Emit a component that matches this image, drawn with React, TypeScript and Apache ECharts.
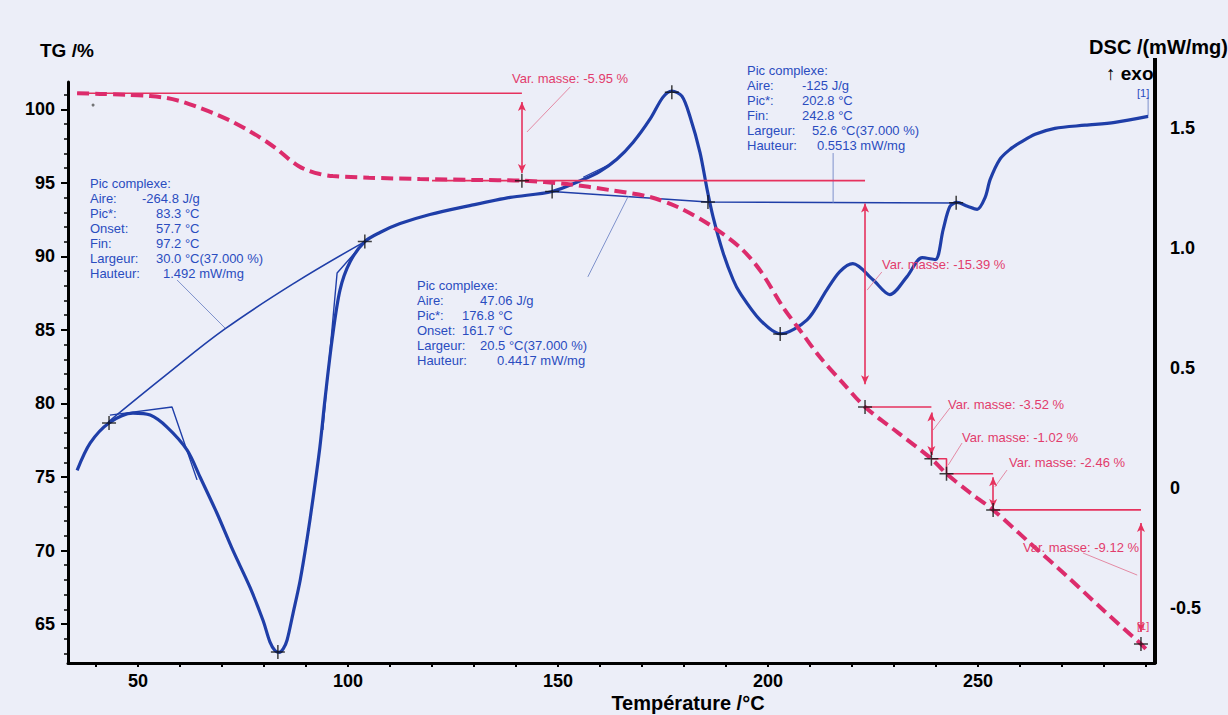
import React, { useEffect, useRef } from "react";
import * as echarts from "echarts";

// ---------- data (Température °C, value) ----------
const dscCurve: [number, number][] = [
  [35.5, 0.075], [38.6, 0.188], [43.1, 0.272], [48.8, 0.313], [52.9, 0.305], [56.9, 0.255],
  [61.7, 0.159], [64.8, 0.046], [68.8, -0.104], [72.6, -0.259], [76.7, -0.414], [79.8, -0.552],
  [81.4, -0.64], [82.6, -0.676], [83.6, -0.684], [84.6, -0.668], [85.5, -0.632], [86.9, -0.522], [88.6, -0.384],
  [90.2, -0.217], [91.7, -0.038], [93.3, 0.171], [94.5, 0.368], [96.2, 0.618], [98.1, 0.827],
  [100.5, 0.944], [104.0, 1.028], [107.6, 1.066], [112.4, 1.103], [119.5, 1.141], [129.0, 1.178],
  [138.6, 1.212], [148.6, 1.237], [156.0, 1.287], [160.0, 1.321], [164.0, 1.371], [167.9, 1.442],
  [171.9, 1.538], [175.0, 1.630], [177.1, 1.655], [179.5, 1.634], [181.4, 1.55], [183.8, 1.4],
  [185.5, 1.245], [186.9, 1.132], [189.3, 0.982], [191.7, 0.869], [193.3, 0.815], [198.1, 0.702],
  [202.9, 0.644], [209.3, 0.702], [214.0, 0.827], [217.1, 0.903], [220.2, 0.936], [225.0, 0.869],
  [229.0, 0.807], [233.1, 0.882], [236.7, 0.961], [239.8, 0.953], [241.7, 1.078], [243.3, 1.174],
  [245.0, 1.191], [247.5, 1.175], [249.8, 1.162], [251.7, 1.212], [252.9, 1.287], [255.2, 1.371],
  [257.6, 1.412], [260.0, 1.44], [263.6, 1.475], [268.3, 1.5], [275.5, 1.513], [282.6, 1.525],
  [290.5, 1.55],
];

const tgCurve: [number, number][] = [
  [35.5, 101.1], [41.0, 101.05], [47.0, 101.0], [52.9, 100.9], [56.9, 100.77], [60.8, 100.5],
  [64.8, 100.09], [68.7, 99.65], [72.6, 99.14], [76.7, 98.5], [80.7, 97.78], [83.5, 97.2],
  [86.2, 96.55], [88.2, 96.15], [90.2, 95.87], [93.3, 95.6], [96.4, 95.46], [105.0, 95.35],
  [117.1, 95.26], [130.0, 95.2], [141.4, 95.15], [152.1, 94.92], [162.4, 94.51], [171.9, 94.04],
  [179.0, 93.29], [186.2, 92.13], [193.3, 90.62], [198.1, 89.06], [203.6, 86.54], [207.6, 84.98],
  [212.4, 83.14], [217.8, 81.4], [223.1, 79.76], [231.0, 78.0], [238.9, 76.24], [242.5, 75.22],
  [248.0, 73.95], [253.6, 72.76], [262.0, 70.6], [271.0, 68.3], [280.0, 65.9], [288.8, 63.64],
  [290.3, 63.2],
];

// TG step points (mass change marks)
const tgMarks: [number, number][] = [
  [141.4, 95.15], [223.1, 79.76], [238.9, 76.24], [242.5, 75.22], [253.6, 72.76], [288.8, 63.64],
];
// DSC characteristic points
const dscMarks: [number, number][] = [
  [43.1, 0.272], [83.3, -0.682], [104.0, 1.028], [148.6, 1.237], [177.1, 1.65],
  [185.7, 1.193], [202.9, 0.643], [244.8, 1.19],
];
const tgDot: [number, number][] = [[39.3, 100.29]];

// DSC evaluation lines (baselines / tangents)
const dscBase1: [number, number][] = [[42.9, 0.276], [56.4, 0.468], [70.7, 0.664], [87.4, 0.857], [104.0, 1.028]];
const dscTangent1: [number, number][] = [[43.3, 0.305], [58.1, 0.339], [64.05, 0.035]];
const dscTangent2: [number, number][] = [[104.0, 1.028], [97.4, 0.897], [94.0, 0.243]];
const dscBase2: [number, number][] = [[148.6, 1.237], [185.7, 1.193], [244.8, 1.189]];
const dscTangent3: [number, number][] = [[156.0, 1.296], [162.9, 1.354]];
// DSC leader lines
const dscLeaders: [number, number][][] = [
  [[59.3, 0.868], [70.7, 0.668]],
  [[157.1, 0.881], [166.7, 1.216]],
  [[215.5, 1.397], [215.5, 1.19]],
  [[290.5, 1.63], [290.5, 1.55]],
];

// TG step lines
const tgLevels: [number, number][][] = [
  [[35.5, 101.1], [141.4, 101.1]],
  [[120.0, 95.15], [223.1, 95.15]],
  [[223.1, 79.76], [238.9, 79.76]],
  [[238.9, 76.24], [242.5, 76.24], [242.5, 75.22]],
  [[242.5, 75.22], [253.6, 75.22]],
  [[253.6, 72.76], [288.8, 72.76]],
];
// double arrows: [T, from, to]
const tgArrows: [number, number, number][] = [
  [141.4, 100.5, 95.67],
  [223.1, 93.6, 81.3],
  [238.9, 79.39, 76.49],
  [253.6, 74.99, 72.89],
  [288.8, 71.87, 64.46],
];
const tgLeaders: [number, number][][] = [
  [[142.6, 98.46], [152.9, 101.52]],
  [[223.6, 87.71], [227.1, 88.94]],
  [[239.3, 78.19], [243.3, 79.69]],
  [[242.9, 75.81], [246.2, 77.31]],
  [[254.0, 74.32], [256.9, 75.47]],
  [[287.9, 68.33], [275.0, 69.83]],
];

const xLabels = [50, 100, 150, 200, 250];
const xTicks = [40, 50, 60, 70, 80, 90, 100, 110, 120, 130, 140, 150, 160, 170, 180, 190, 200, 210, 220, 230, 240, 250, 260, 270, 280, 290];
const tgLabels = [65, 70, 75, 80, 85, 90, 95, 100];
const tgMinorTicks = [63, 64, 65, 66, 67, 68, 69, 70, 71, 72, 73, 74, 75, 76, 77, 78, 79, 80, 81, 82, 83, 84, 85, 86, 87, 88, 89, 90, 91, 92, 93, 94, 95, 96, 97, 98, 99, 100, 101];
const dscLabels = [-0.5, 0, 0.5, 1, 1.5];

const peak1Keys = ["Pic complexe:", "Aire:", "Pic*:", "Onset:", "Fin:", "Largeur:", "Hauteur:"];
const peak1Vals = ["", "-264.8 J/g", "83.3 °C", "57.7 °C", "97.2 °C", "30.0 °C(37.000 %)", "1.492 mW/mg"];
const peak2Keys = ["Pic complexe:", "Aire:", "Pic*:", "Onset:", "Largeur:", "Hauteur:"];
const peak2Vals = ["", "47.06 J/g", "176.8 °C", "161.7 °C", "20.5 °C(37.000 %)", "0.4417 mW/mg"];
const peak3Keys = ["Pic complexe:", "Aire:", "Pic*:", "Fin:", "Largeur:", "Hauteur:"];
const peak3Vals = ["", "-125 J/g", "202.8 °C", "242.8 °C", "52.6 °C(37.000 %)", "0.5513 mW/mg"];
const massLabels = [
  "Var. masse: -5.95 %", "Var. masse: -15.39 %", "Var. masse: -3.52 %",
  "Var. masse: -1.02 %", "Var. masse: -2.46 %", "Var. masse: -9.12 %",
];

// ---------- layout / style ----------
const FONT = '"Liberation Sans", Arial, Helvetica, sans-serif';
const BLUE = "#1f3ea8";
const BLUE_TEXT = "#2a4cbf";
const RED = "#e6325e";
const RED_TEXT = "#e23c6c";
const TG_COLOR = "#dc2c6c";

const block1Pos = { x: 90, y: 183, off: [0, 52, 66, 66, 66, 66, 73] };
const block2Pos = { x: 417, y: 285, off: [0, 63, 45, 45, 63, 80] };
const block3Pos = { x: 747, y: 70, off: [0, 55, 55, 55, 65, 70] };
const massPos: [number, number][] = [[512, 78], [882, 264], [948, 404], [962, 437], [1009, 462], [1023, 547]];

function textEl(text: string, x: number, y: number, fill: string, size: number, weight = "normal", align = "left", z = 20) {
  return {
    type: "text",
    x,
    y,
    z,
    silent: true,
    style: {
      text,
      fill,
      font: `${weight} ${size}px ${FONT}`,
      textAlign: align,
      textVerticalAlign: "middle",
    },
  };
}

function blockEls(keys: string[], vals: string[], pos: { x: number; y: number; off: number[] }) {
  const els: any[] = [];
  keys.forEach((k, i) => {
    const y = pos.y + i * 15;
    els.push(textEl(k, pos.x, y, BLUE_TEXT, 13));
    if (vals[i]) els.push(textEl(vals[i], pos.x + pos.off[i], y, BLUE_TEXT, 13));
  });
  return els;
}

function lineSeries(data: [number, number][], yAxisIndex: number, color: string, width: number, z: number, smooth: any = false, extra: any = {}) {
  return {
    type: "line",
    data,
    yAxisIndex,
    showSymbol: false,
    symbol: "none",
    smooth,
    silent: true,
    z,
    lineStyle: { color, width },
    ...extra,
  };
}

const crossSymbol = "path://M10,0L10,20M0,10L20,10";

export default function App() {
  const ref = useRef<HTMLDivElement>(null);
  useEffect(() => {
    const chart = echarts.init(ref.current!, null, { renderer: "svg" });
    const grid = { left: 68, right: 73, top: 82, bottom: 52 };
    const series: any[] = [];

    series.push(lineSeries(dscCurve, 1, BLUE, 3.2, 3, 0.3));
    series.push(lineSeries(dscBase1, 1, BLUE, 1.6, 2, 0.4));
    series.push(lineSeries(dscTangent1, 1, BLUE, 1.4, 2));
    series.push(lineSeries(dscTangent2, 1, BLUE, 1.4, 2));
    series.push(lineSeries(dscBase2, 1, BLUE, 1.6, 2));
    series.push(lineSeries(dscTangent3, 1, BLUE, 1.2, 2));
    dscLeaders.forEach((l) => series.push(lineSeries(l, 1, "#7f92cc", 1, 2)));

    tgLevels.forEach((l, i) =>
      series.push(
        lineSeries(l, 0, RED, 1.6, 4, false,
          i === 0
            ? {
                markLine: {
                  silent: true,
                  symbol: ["arrow", "arrow"],
                  symbolSize: [6, 9],
                  label: { show: false },
                  lineStyle: { color: RED, width: 1.6, type: "solid" },
                  data: tgArrows.map((a) => [{ coord: [a[0], a[1]] }, { coord: [a[0], a[2]] }]),
                },
              }
            : {})
      )
    );
    tgLeaders.forEach((l) => series.push(lineSeries(l, 0, "#e48aa4", 1, 4)));

    series.push(
      lineSeries(tgCurve, 0, TG_COLOR, 4, 6, 0.3, {
        lineStyle: { color: TG_COLOR, width: 4, type: [12, 6], cap: "butt" },
      })
    );

    const crossStyle = { color: "rgba(0,0,0,0)", borderColor: "#111", borderWidth: 1.5 };
    series.push({ type: "scatter", data: tgMarks, yAxisIndex: 0, symbol: crossSymbol, symbolSize: 14, itemStyle: crossStyle, z: 10, silent: true });
    series.push({ type: "scatter", data: dscMarks, yAxisIndex: 1, symbol: crossSymbol, symbolSize: 14, itemStyle: crossStyle, z: 10, silent: true });
    series.push({ type: "scatter", data: tgDot, yAxisIndex: 0, symbol: "circle", symbolSize: 3, itemStyle: { color: "#555" }, z: 10, silent: true });

    const axisLabelStyle = { color: "#000", fontSize: 18, fontWeight: "bold", fontFamily: FONT };

    const graphic: any[] = [
      ...blockEls(peak1Keys, peak1Vals, block1Pos),
      ...blockEls(peak2Keys, peak2Vals, block2Pos),
      ...blockEls(peak3Keys, peak3Vals, block3Pos),
      ...massLabels.map((t, i) => textEl(t, massPos[i][0], massPos[i][1], RED_TEXT, 13)),
      textEl("[1]", 1137, 626, RED_TEXT, 11),
      textEl("[1]", 1137, 93, BLUE_TEXT, 11),
      textEl("TG /%", 40, 50, "#000", 19, "bold"),
      textEl("DSC /(mW/mg)", 1228, 47, "#000", 20, "bold", "right", 15),
      textEl("↑ exo", 1106, 73, "#000", 19, "bold", "left", 15),
      textEl("Température /°C", 688, 703, "#000", 20, "bold", "center"),
      {
        type: "line",
        z: 30,
        silent: true,
        shape: { x1: 1155, y1: 58, x2: 1155, y2: 664 },
        style: { stroke: "#000", lineWidth: 4 },
      },
    ];

    chart.setOption({
      animation: false,
      backgroundColor: "#eceef8",
      grid,
      xAxis: {
        type: "value",
        min: 33.33,
        max: 292.14,
        splitLine: { show: false },
        axisLine: { show: true, onZero: false, lineStyle: { color: "#000", width: 3 } },
        axisTick: { show: true, length: 4, customValues: xTicks, lineStyle: { color: "#000", width: 2 } },
        axisLabel: { ...axisLabelStyle, margin: 9, customValues: xLabels, formatter: (v: number) => String(v) },
      },
      yAxis: [
        {
          type: "value",
          position: "left",
          min: 62.35,
          max: 101.86,
          splitLine: { show: false },
          axisLine: { show: true, onZero: false, lineStyle: { color: "#000", width: 3 } },
          axisTick: { show: true, length: 4, customValues: tgMinorTicks, lineStyle: { color: "#000", width: 1.5 } },
          axisLabel: { ...axisLabelStyle, margin: 13, customValues: tgLabels, formatter: (v: number) => String(v) },
        },
        {
          type: "value",
          position: "right",
          min: -0.728,
          max: 1.693,
          splitLine: { show: false },
          axisLine: { show: false },
          axisTick: { show: false },
          axisLabel: {
            ...axisLabelStyle,
            margin: 15,
            customValues: dscLabels,
            formatter: (v: number) => (v === 1 ? "1.0" : String(v)),
          },
        },
        {
          type: "value",
          position: "left",
          min: 62.35,
          max: 101.86,
          splitLine: { show: false },
          axisLine: { show: false },
          axisLabel: { show: false },
          axisTick: { show: true, length: 7, customValues: tgLabels, lineStyle: { color: "#000", width: 2 } },
        },
      ],
      series,
      graphic,
    });
    return () => chart.dispose();
  }, []);
  return <div ref={ref} style={{ position: "absolute", left: 0, top: 0, width: 1228, height: 715 }} />;
}
